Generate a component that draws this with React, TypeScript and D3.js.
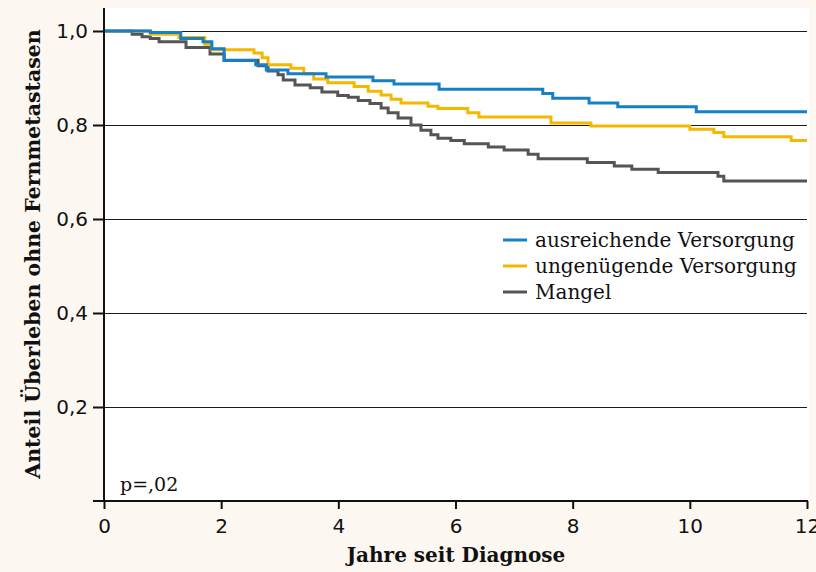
import { useEffect, useRef } from 'react';
import * as d3 from 'd3';

// step points [Jahre, Anteil]
const ausreichend: [number, number][] = [
  [0, 1], [0.79, 0.997], [1.31, 0.984], [1.69, 0.977], [1.84, 0.962], [2.05, 0.937],
  [2.59, 0.928], [2.77, 0.917], [3.14, 0.909], [3.79, 0.902], [4.59, 0.894], [4.95, 0.887],
  [5.72, 0.876], [7.49, 0.867], [7.66, 0.857], [8.28, 0.847], [8.77, 0.839], [10.11, 0.828],
  [12, 0.828],
];
const ungenuegend: [number, number][] = [
  [0, 1], [0.79, 0.993], [1.28, 0.986], [1.72, 0.972], [1.84, 0.96], [2.56, 0.953],
  [2.7, 0.943], [2.8, 0.928], [3.19, 0.921], [3.41, 0.909], [3.58, 0.898], [3.82, 0.89],
  [4.27, 0.882], [4.51, 0.872], [4.73, 0.864], [4.9, 0.855], [5.07, 0.847], [5.53, 0.84],
  [5.7, 0.835], [6.21, 0.826], [6.4, 0.817], [7.63, 0.804], [8.31, 0.798], [10.0, 0.791],
  [10.41, 0.784], [10.58, 0.775], [11.73, 0.767], [12, 0.767],
];
const mangel: [number, number][] = [
  [0, 1], [0.48, 0.993], [0.65, 0.988], [0.79, 0.984], [0.94, 0.977], [1.4, 0.965],
  [1.81, 0.951], [2.05, 0.938], [2.63, 0.926], [2.8, 0.915], [2.97, 0.907], [3.06, 0.896],
  [3.26, 0.885], [3.52, 0.879], [3.72, 0.87], [3.99, 0.863], [4.17, 0.859], [4.34, 0.852],
  [4.54, 0.846], [4.73, 0.836], [4.85, 0.826], [5.02, 0.815], [5.24, 0.8], [5.41, 0.789],
  [5.58, 0.779], [5.7, 0.772], [5.92, 0.767], [6.15, 0.76], [6.56, 0.753], [6.83, 0.747],
  [7.24, 0.738], [7.41, 0.728], [8.25, 0.72], [8.71, 0.713], [9.01, 0.706], [9.46, 0.699],
  [10.48, 0.691], [10.58, 0.681], [12, 0.681],
];

const seriesNames = ['ausreichende Versorgung', 'ungenügende Versorgung', 'Mangel'];
const seriesColors = ['#1580c6', '#f4b800', '#555555'];
const xTicks = [0, 2, 4, 6, 8, 10, 12];
const yTicks = [0.2, 0.4, 0.6, 0.8, 1.0];

const App = () => {
  const ref = useRef<SVGSVGElement>(null);

  useEffect(() => {
    const svg = d3.select(ref.current);
    svg.selectAll('*').remove();

    const left = 104, right = 807, top = 31, bottom = 501;
    const x = d3.scaleLinear().domain([0, 12]).range([left, right]);
    const y = d3.scaleLinear().domain([0, 1]).range([bottom, top]);

    svg.append('rect').attr('width', 816).attr('height', 572).attr('fill', '#fcf7f0');
    svg.append('rect')
      .attr('x', left).attr('y', 8)
      .attr('width', right - left + 2).attr('height', bottom - 8)
      .attr('fill', '#ffffff');

    // grid
    svg.append('g')
      .selectAll('line')
      .data(yTicks)
      .enter()
      .append('line')
      .attr('x1', left).attr('x2', right)
      .attr('y1', d => y(d) + 0.5).attr('y2', d => y(d) + 0.5)
      .attr('stroke', '#1a1a1a')
      .attr('stroke-width', 1);

    // curves
    const line = d3.line<[number, number]>()
      .x(d => x(d[0]))
      .y(d => y(d[1]))
      .curve(d3.curveStepAfter);
    const all = [ausreichend, ungenuegend, mangel];
    [2, 1, 0].forEach(i => {
      svg.append('path')
        .datum(all[i])
        .attr('d', line)
        .attr('fill', 'none')
        .attr('stroke', seriesColors[i])
        .attr('stroke-width', 3);
    });

    // axes
    const yAxis = svg.append('g')
      .attr('transform', `translate(${left},0)`)
      .call(d3.axisLeft(y).tickValues(yTicks).tickSize(11).tickPadding(5)
        .tickFormat(d => d3.format('.1f')(d as number).replace('.', ',')));
    yAxis.select('.domain').remove();
    yAxis.selectAll('line').attr('stroke', '#111').attr('stroke-width', 2);
    yAxis.selectAll('text')
      .style('font-family', 'DejaVu Sans, sans-serif')
      .style('font-size', '20px')
      .attr('fill', '#111');

    const xAxis = svg.append('g')
      .attr('transform', `translate(0,${bottom})`)
      .call(d3.axisBottom(x).tickValues(xTicks).tickSize(8).tickPadding(10));
    xAxis.select('.domain').remove();
    xAxis.selectAll('line').attr('stroke', '#111').attr('stroke-width', 2);
    xAxis.selectAll('text')
      .style('font-family', 'DejaVu Sans, sans-serif')
      .style('font-size', '20px')
      .attr('fill', '#111');

    svg.append('line')
      .attr('x1', left).attr('x2', left).attr('y1', 8).attr('y2', bottom)
      .attr('stroke', '#111').attr('stroke-width', 2);
    svg.append('line')
      .attr('x1', 93).attr('x2', right + 1).attr('y1', bottom).attr('y2', bottom)
      .attr('stroke', '#111').attr('stroke-width', 2);

    // titles
    svg.append('text')
      .attr('x', 456).attr('y', 562)
      .attr('text-anchor', 'middle')
      .attr('font-family', 'DejaVu Serif, serif')
      .attr('font-weight', 'bold')
      .attr('font-size', 20)
      .attr('fill', '#111')
      .text('Jahre seit Diagnose');
    svg.append('text')
      .attr('transform', 'translate(40,254) rotate(-90)')
      .attr('text-anchor', 'middle')
      .attr('font-family', 'DejaVu Serif, serif')
      .attr('font-weight', 'bold')
      .attr('font-size', 20.5)
      .attr('fill', '#111')
      .text('Anteil Überleben ohne Fernmetastasen');

    svg.append('text')
      .attr('x', 120).attr('y', 491)
      .attr('font-family', 'DejaVu Serif, serif')
      .attr('font-size', 19)
      .attr('fill', '#111')
      .text('p=,02');

    // legend
    const legend = svg.append('g').attr('transform', 'translate(503,240)');
    seriesNames.forEach((name, i) => {
      const g = legend.append('g').attr('transform', `translate(0,${i * 26})`);
      g.append('line')
        .attr('x1', 0).attr('x2', 24)
        .attr('stroke', seriesColors[i]).attr('stroke-width', 3);
      g.append('text')
        .attr('x', 32).attr('y', 7)
        .attr('font-family', 'DejaVu Serif, serif')
        .attr('font-size', 20)
        .attr('fill', '#111')
        .text(name);
    });
  }, []);

  return (
    <svg ref={ref} width={816} height={572}
      style={{ position: 'absolute', left: 0, top: 0, display: 'block' }} />
  );
};

export default App;
